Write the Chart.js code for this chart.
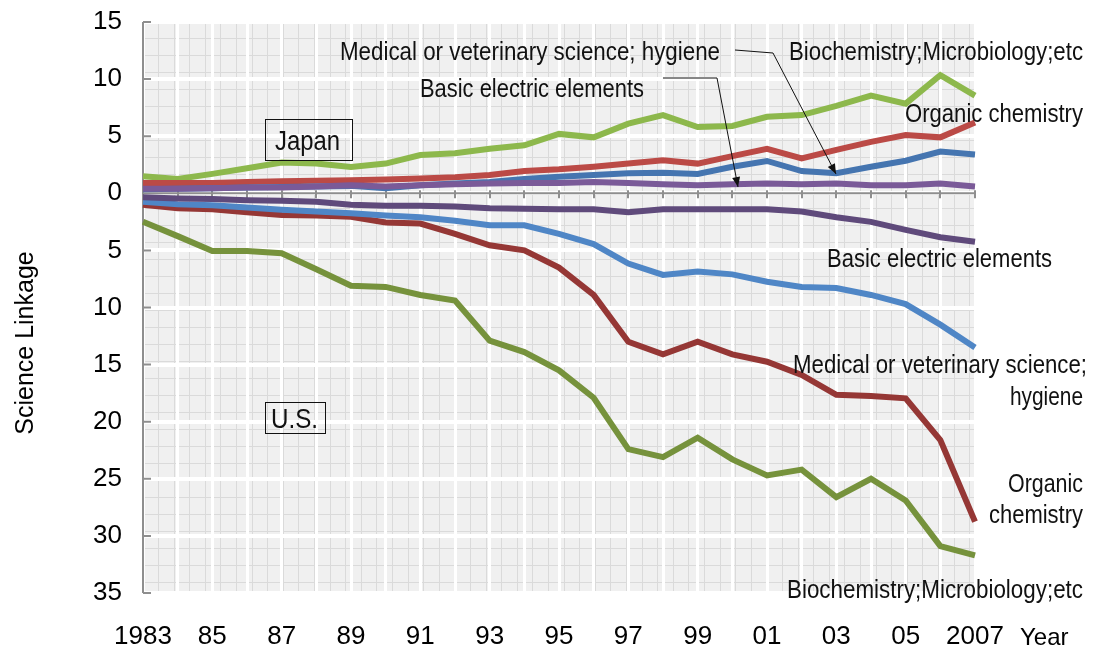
<!DOCTYPE html>
<html><head><meta charset="utf-8">
<script src="https://cdn.jsdelivr.net/npm/chart.js@4.4.1/dist/chart.umd.min.js"></script>
<style>html,body{margin:0;padding:0;background:#fff;}#wrap{width:1094px;height:651px;}</style>
</head><body><div id="wrap"><canvas id="c" width="1094" height="651"></canvas></div>
<script>
const years = [1983,1984,1985,1986,1987,1988,1989,1990,1991,1992,1993,1994,1995,1996,1997,1998,1999,2000,2001,2002,2003,2004,2005,2006,2007];
const tickLabels = ['1983','','85','','87','','89','','91','','93','','95','','97','','99','','01','','03','','05','','2007'];

// Japan (plotted upward)
const jpBiochem = [1.5,1.25,1.7,2.2,2.7,2.6,2.3,2.6,3.35,3.5,3.9,4.2,5.2,4.9,6.1,6.85,5.8,5.9,6.7,6.85,7.65,8.55,7.85,10.35,8.55];
const jpOrganic = [0.9,0.9,0.9,1.0,1.05,1.1,1.15,1.2,1.3,1.4,1.6,1.95,2.1,2.33,2.6,2.9,2.6,3.25,3.9,3.05,3.8,4.5,5.1,4.9,6.2];
const jpMedical = [0.35,0.4,0.45,0.5,0.55,0.6,0.65,0.45,0.7,0.85,1.0,1.25,1.45,1.6,1.75,1.8,1.7,2.33,2.83,1.95,1.75,2.33,2.85,3.65,3.4];
const jpBasic   = [0.4,0.4,0.45,0.5,0.5,0.6,0.7,0.6,0.7,0.8,0.85,0.9,0.9,1.0,0.9,0.8,0.7,0.8,0.85,0.8,0.85,0.7,0.7,0.85,0.6];

// U.S. (plotted downward)
const usBiochem = [-2.5,-3.75,-5.05,-5.05,-5.25,-6.65,-8.1,-8.2,-8.9,-9.4,-12.9,-13.9,-15.5,-17.9,-22.4,-23.1,-21.4,-23.3,-24.7,-24.2,-26.6,-25.0,-26.9,-30.9,-31.7];
const usOrganic = [-1.0,-1.3,-1.4,-1.65,-1.9,-1.95,-2.05,-2.55,-2.65,-3.55,-4.55,-5.0,-6.5,-8.9,-13.0,-14.1,-13.0,-14.1,-14.75,-15.9,-17.65,-17.75,-17.95,-21.6,-28.75];
const usMedical = [-0.75,-0.95,-1.05,-1.25,-1.45,-1.6,-1.75,-1.95,-2.1,-2.4,-2.8,-2.8,-3.55,-4.45,-6.15,-7.15,-6.85,-7.1,-7.75,-8.2,-8.3,-8.9,-9.7,-11.5,-13.5];
const usBasic   = [-0.35,-0.45,-0.5,-0.6,-0.65,-0.75,-1.0,-1.1,-1.1,-1.15,-1.3,-1.35,-1.4,-1.4,-1.65,-1.4,-1.4,-1.4,-1.4,-1.6,-2.1,-2.5,-3.2,-3.85,-4.25];

const NARROW = '"Liberation Sans Narrow","Arial Narrow","Liberation Sans",Arial,sans-serif';
const SANS = '"Liberation Sans",Arial,sans-serif';

// annotation texts: left x, baseline y, target width
const notes = [
  {t:'Medical or veterinary science; hygiene', x:340, y:60, w:380},
  {t:'Biochemistry;Microbiology;etc', x:789, y:60, w:294},
  {t:'Basic electric elements', x:420, y:97, w:224},
  {t:'Organic chemistry', x:905, y:122, w:178},
  {t:'Basic electric elements', x:827, y:267, w:225},
  {t:'Medical or veterinary science;', x:793, y:373, w:294},
  {t:'hygiene', x:1010, y:405, w:73},
  {t:'Organic', x:1008, y:492, w:75},
  {t:'chemistry', x:989, y:523, w:94},
  {t:'Biochemistry;Microbiology;etc', x:787, y:598, w:296}
];
const boxes = [
  {t:'Japan', x:275, y:150, w:65, bx:265, by:119, bw:87, bh:41},
  {t:'U.S.', x:271, y:428, w:47, bx:265, by:402, bw:60, bh:31}
];
const arrows = [
  [[735,50],[773,53],[836,174]],
  [[663,78],[717,78],[738,187]]
];

function drawFit(ctx, t, x, y, w, size){
  ctx.save();
  ctx.font = size + 'px ' + NARROW;
  const m = ctx.measureText(t).width;
  ctx.translate(x, y);
  ctx.scale(w / m, 1);
  ctx.textAlign = 'left';
  ctx.textBaseline = 'alphabetic';
  ctx.fillStyle = '#111';
  ctx.fillText(t, 0, 0);
  ctx.restore();
}

const decor = {
  id: 'decor',
  beforeDraw(chart){
    const {ctx, chartArea:a} = chart;
    ctx.save();
    ctx.fillStyle = '#f0f0f0';
    ctx.fillRect(a.left, a.top, a.right - a.left, a.bottom - a.top);
    ctx.strokeStyle = '#dadada';
    ctx.lineWidth = 1;
    ctx.beginPath();
    for (let x = a.left + 15; x < a.right; x += 15.6) { const px = Math.round(x) + 0.5; ctx.moveTo(px, a.top); ctx.lineTo(px, a.bottom); }
    for (let y = a.top + 16; y < a.bottom; y += 17) { const py = Math.round(y) + 0.5; ctx.moveTo(a.left, py); ctx.lineTo(a.right, py); }
    ctx.stroke();
    ctx.restore();
  },
  beforeDatasetsDraw(chart){
    const {ctx, chartArea:a, scales} = chart;
    const y0 = scales.y.getPixelForValue(0);
    ctx.save();
    ctx.strokeStyle = '#8e8e8e';
    ctx.lineWidth = 2;
    ctx.beginPath();
    ctx.moveTo(a.left, y0); ctx.lineTo(a.right, y0);
    for (let i = 0; i < years.length; i++) {
      const x = Math.round(scales.x.getPixelForValue(i));
      ctx.moveTo(x, y0 - 3); ctx.lineTo(x, y0 + 5);
    }
    ctx.moveTo(a.left, a.top); ctx.lineTo(a.left, a.bottom);
    scales.y.ticks.forEach(tk => {
      const y = scales.y.getPixelForValue(tk.value);
      ctx.moveTo(a.left, y); ctx.lineTo(a.left + 8, y);
    });
    ctx.stroke();
    ctx.restore();
  },
  afterDatasetsDraw(chart){
    const {ctx} = chart;
    notes.forEach(n => drawFit(ctx, n.t, n.x, n.y, n.w, 25));
    boxes.forEach(b => {
      ctx.save();
      ctx.strokeStyle = '#111'; ctx.lineWidth = 1;
      ctx.strokeRect(b.bx + 0.5, b.by + 0.5, b.bw, b.bh);
      ctx.restore();
      drawFit(ctx, b.t, b.x, b.y, b.w, 27);
    });
    arrows.forEach(p => {
      ctx.save();
      ctx.strokeStyle = '#111'; ctx.fillStyle = '#111'; ctx.lineWidth = 1;
      ctx.beginPath();
      ctx.moveTo(p[0][0], p[0][1]);
      for (let i = 1; i < p.length; i++) ctx.lineTo(p[i][0], p[i][1]);
      ctx.stroke();
      const [x1, y1] = p[p.length - 2], [x2, y2] = p[p.length - 1];
      const ang = Math.atan2(y2 - y1, x2 - x1);
      ctx.translate(x2, y2); ctx.rotate(ang);
      ctx.beginPath(); ctx.moveTo(0, 0); ctx.lineTo(-10, -4); ctx.lineTo(-10, 4); ctx.closePath(); ctx.fill();
      ctx.restore();
    });
    ctx.save();
    ctx.fillStyle = '#000';
    ctx.font = '24px ' + SANS;
    ctx.textAlign = 'left'; ctx.textBaseline = 'alphabetic';
    ctx.fillText('Year', 1020, 645);
    ctx.translate(33, 343); ctx.rotate(-Math.PI / 2);
    ctx.font = '25px ' + SANS;
    ctx.textAlign = 'center';
    ctx.fillText('Science Linkage', 0, 0);
    ctx.restore();
  }
};

function ds(data, color){
  return {data, borderColor: color, backgroundColor: color, borderWidth: 6, pointRadius: 0, tension: 0, fill: false, borderCapStyle: 'butt', borderJoinStyle: 'miter'};
}

new Chart(document.getElementById('c'), {
  type: 'line',
  data: {
    labels: years,
    datasets: [
      ds(usBasic, '#5f4a7b'),
      ds(usMedical, '#4f86c6'),
      ds(usOrganic, '#953735'),
      ds(usBiochem, '#76923c'),
      ds(jpBasic, '#7a5a98'),
      ds(jpMedical, '#4575b0'),
      ds(jpOrganic, '#bb4a46'),
      ds(jpBiochem, '#8db84c')
    ]
  },
  options: {
    responsive: false,
    animation: false,
    devicePixelRatio: 1,
    layout: {padding: {top: 22, right: 119, left: 0, bottom: 0}},
    plugins: {legend: {display: false}, tooltip: {enabled: false}},
    scales: {
      x: {
        type: 'category',
        offset: false,
        grid: {color: '#ffffff', lineWidth: 3, drawTicks: false},
        border: {display: false},
        ticks: {
          autoSkip: false, maxRotation: 0, minRotation: 0, padding: 28, color: '#000',
          font: {family: SANS, size: 26},
          callback: (v, i) => tickLabels[i]
        },
        afterFit: s => { s.height = 58; s.paddingLeft = 0; s.paddingRight = 0; }
      },
      y: {
        min: -35, max: 15,
        grid: {color: '#ffffff', lineWidth: 4, drawTicks: false},
        border: {display: false},
        ticks: {
          stepSize: 5, padding: 21, color: '#000',
          font: {family: SANS, size: 26},
          callback: v => String(Math.abs(v))
        },
        afterFit: s => { s.width = 143; s.paddingTop = 0; s.paddingBottom = 0; }
      }
    }
  },
  plugins: [decor]
});
</script></body></html>
